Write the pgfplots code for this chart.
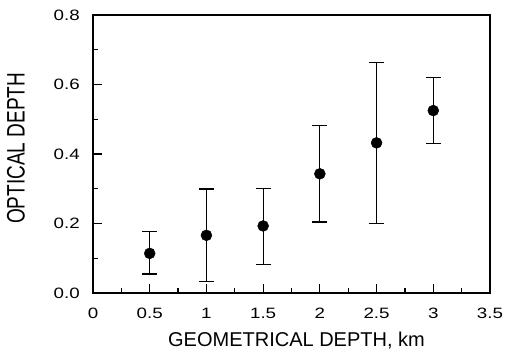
\documentclass[border=0pt]{standalone}
\usepackage{fontspec}
\setmainfont{Liberation Sans}
\newfontfamily\tickfont[FakeStretch=1.25]{Liberation Sans}
\usepackage{graphicx}
\usepackage{pgfplots}
\pgfplotsset{compat=1.18}
\pgfplotstableread{
x    y      ep     em
0.5  0.114  0.062  0.059
1.0  0.166  0.133  0.133
1.5  0.193  0.107  0.110
2.0  0.343  0.140  0.139
2.5  0.432  0.232  0.231
3.0  0.525  0.095  0.095
}\datatab
\begin{document}
\begin{tikzpicture}
\begin{axis}[name=ax, scale only axis, width=397bp, height=278bp,
  xmin=0, xmax=3.5, ymin=0, ymax=0.8,
  xtick={0,0.5,1,1.5,2,2.5,3,3.5}, ytick={0,0.2,0.4,0.6,0.8},
  minor x tick num=1, minor y tick num=1,
  tick pos=left, tick align=inside,
  major tick length=9bp, minor tick length=5bp,
  axis line style={line width=1.4bp},
  every tick/.style={line width=1.2bp, black},
  /pgf/number format/assume math mode=true,
  tick label style={font=\tickfont\fontsize{15bp}{17bp}\selectfont, inner sep=0pt},
  xticklabel style={anchor=north}, xticklabel shift=15bp,
  yticklabel style={anchor=east, /pgf/number format/fixed, /pgf/number format/fixed zerofill, /pgf/number format/precision=1},
  yticklabel shift=13bp,
  xlabel={\fontsize{20bp}{22bp}\selectfont GEOMETRICAL DEPTH, km},
  xlabel style={at={(axis description cs:0.5126,-0.193)}, anchor=base, inner sep=0pt},
  ylabel={\scalebox{1}[1.33]{\fontsize{19bp}{22bp}\selectfont OPTICAL DEPTH}},
  ylabel style={at={(axis description cs:-0.194,0.52)}, anchor=center, inner sep=0pt},
]
\addplot[only marks, mark=*, mark size=5.5bp, black,
  error bars/.cd, y dir=both, y explicit,
  error bar style={line width=1.2bp, black},
  error mark options={rotate=90, mark size=7.5bp, line width=1.3bp, black}]
  table[x=x, y=y, y error plus=ep, y error minus=em]{\datatab};
\end{axis}
\pgfresetboundingbox
\path[use as bounding box] ([shift={(-93bp,-58bp)}]ax.south west) rectangle ([shift={(18bp,15bp)}]ax.north east);
\end{tikzpicture}
\end{document}
